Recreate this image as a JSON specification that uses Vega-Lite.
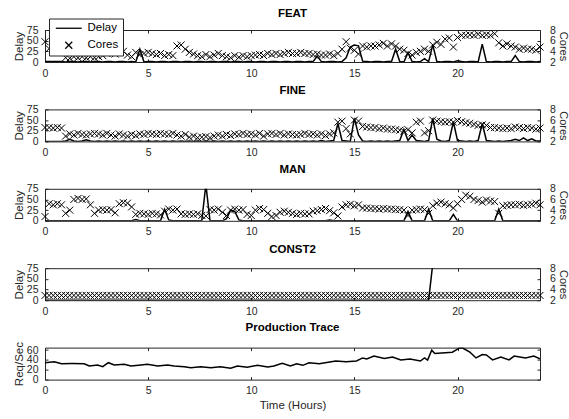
{
"$schema": "https://vega.github.io/schema/vega-lite/v6.json",
"background": "white",
"padding": {"left": 12, "top": 7, "right": 0, "bottom": 4},
"config": {
  "font": "Liberation Sans",
  "view": {"stroke": "#262626", "strokeWidth": 1},
  "title": {"font": "Liberation Sans", "fontSize": 11.5, "fontWeight": "bold", "color": "black", "offset": 8},
  "axis": {"labelFont": "Liberation Sans", "titleFont": "Liberation Sans", "labelFontSize": 10.5, "titleFontSize": 11.5, "titleFontWeight": "normal", "labelColor": "#262626", "titleColor": "#262626", "tickColor": "#262626", "domain": false, "grid": false, "tickSize": -3, "labelPadding": 9, "labelOverlap": false, "labelFlush": false, "titlePadding": 4},
  "axisLeft": {"labelPadding": 10, "titlePadding": 2},
  "axisRight": {"labelPadding": 12.5, "titlePadding": 2, "titleFontSize": 11},
  "axisBottom": {"labelPadding": 9, "titlePadding": 3},
  "legend": {"labelFont": "Liberation Sans"}
},
"datasets": {
"feat": [
{"t":0,"d":1,"c":5.8},{"t":0.2,"d":1,"c":4.5},{"t":0.4,"d":1,"c":4.5},{"t":0.6,"d":1,"c":4.2},{"t":0.8,"d":1,"c":4.0},
{"t":1.0,"d":0,"c":2.8},{"t":1.2,"d":1,"c":2.7},{"t":1.4,"d":1,"c":3.0},{"t":1.6,"d":0,"c":2.8},{"t":1.8,"d":1,"c":3.0},
{"t":2.0,"d":1,"c":2.8},{"t":2.2,"d":0,"c":3.0},{"t":2.4,"d":1,"c":2.8},{"t":2.6,"d":1,"c":3.0},{"t":2.8,"d":0,"c":3.2},
{"t":3.0,"d":1,"c":3.6},{"t":3.2,"d":1,"c":3.9},{"t":3.4,"d":0,"c":3.5},{"t":3.6,"d":1,"c":3.9},{"t":3.8,"d":1,"c":4.0},
{"t":4.0,"d":0,"c":3.3},{"t":4.2,"d":1,"c":3.0},{"t":4.4,"d":0,"c":3.8},{"t":4.6,"d":30,"c":3.4},{"t":4.8,"d":0,"c":3.6},
{"t":5.0,"d":1,"c":3.8},{"t":5.2,"d":1,"c":3.6},{"t":5.4,"d":0,"c":3.4},{"t":5.6,"d":1,"c":3.6},{"t":5.8,"d":1,"c":3.2},
{"t":6.0,"d":0,"c":3.4},{"t":6.2,"d":1,"c":3.2},{"t":6.4,"d":1,"c":5.0},{"t":6.6,"d":0,"c":5.2},{"t":6.8,"d":1,"c":4.4},
{"t":7.0,"d":1,"c":3.8},{"t":7.2,"d":0,"c":3.5},{"t":7.4,"d":1,"c":3.2},{"t":7.6,"d":1,"c":3.0},{"t":7.8,"d":0,"c":3.4},
{"t":8.0,"d":1,"c":3.0},{"t":8.2,"d":1,"c":3.3},{"t":8.4,"d":0,"c":3.6},{"t":8.6,"d":1,"c":3.2},{"t":8.8,"d":1,"c":3.0},
{"t":9.0,"d":0,"c":2.8},{"t":9.2,"d":1,"c":3.2},{"t":9.4,"d":1,"c":2.9},{"t":9.6,"d":0,"c":3.2},{"t":9.8,"d":1,"c":3.0},
{"t":10.0,"d":1,"c":3.2},{"t":10.2,"d":0,"c":3.3},{"t":10.4,"d":1,"c":3.4},{"t":10.6,"d":1,"c":3.2},{"t":10.8,"d":0,"c":3.6},
{"t":11.0,"d":1,"c":3.4},{"t":11.2,"d":1,"c":3.6},{"t":11.4,"d":0,"c":3.4},{"t":11.6,"d":1,"c":3.6},{"t":11.8,"d":1,"c":3.8},
{"t":12.0,"d":0,"c":3.6},{"t":12.2,"d":1,"c":3.6},{"t":12.4,"d":1,"c":3.8},{"t":12.6,"d":0,"c":3.6},{"t":12.8,"d":1,"c":3.6},
{"t":13.0,"d":1,"c":3.4},{"t":13.2,"d":14,"c":3.5},{"t":13.4,"d":1,"c":3.3},{"t":13.6,"d":0,"c":3.3},{"t":13.8,"d":1,"c":3.5},
{"t":14.0,"d":1,"c":3.2},{"t":14.2,"d":0,"c":3.6},{"t":14.4,"d":1,"c":4.4},{"t":14.6,"d":10,"c":5.8},{"t":14.8,"d":35,"c":4.6},
{"t":15.0,"d":40,"c":4.2},{"t":15.2,"d":38,"c":3.5},{"t":15.4,"d":2,"c":5.0},{"t":15.6,"d":1,"c":4.8},{"t":15.8,"d":0,"c":5.0},
{"t":16.0,"d":1,"c":5.0},{"t":16.2,"d":1,"c":5.2},{"t":16.4,"d":0,"c":5.5},{"t":16.6,"d":1,"c":5.0},{"t":16.8,"d":1,"c":5.4},
{"t":17.0,"d":30,"c":5.0},{"t":17.2,"d":1,"c":4.4},{"t":17.4,"d":0,"c":4.2},{"t":17.6,"d":22,"c":3.6},{"t":17.8,"d":1,"c":3.3},
{"t":18.0,"d":0,"c":3.8},{"t":18.2,"d":1,"c":4.0},{"t":18.4,"d":8,"c":4.4},{"t":18.6,"d":1,"c":4.0},{"t":18.8,"d":40,"c":5.2},
{"t":19.0,"d":1,"c":5.7},{"t":19.2,"d":0,"c":5.3},{"t":19.4,"d":1,"c":6.3},{"t":19.6,"d":1,"c":6.5},{"t":19.8,"d":0,"c":4.8},
{"t":20.0,"d":3,"c":6.6},{"t":20.2,"d":1,"c":7.0},{"t":20.4,"d":0,"c":7.0},{"t":20.6,"d":1,"c":7.1},{"t":20.8,"d":1,"c":7.0},
{"t":21.0,"d":0,"c":7.2},{"t":21.2,"d":42,"c":7.0},{"t":21.4,"d":1,"c":7.1},{"t":21.6,"d":0,"c":7.0},{"t":21.8,"d":1,"c":7.3},
{"t":22.0,"d":1,"c":5.6},{"t":22.2,"d":0,"c":5.0},{"t":22.4,"d":1,"c":5.4},{"t":22.6,"d":1,"c":5.0},{"t":22.8,"d":15,"c":4.8},
{"t":23.0,"d":1,"c":4.4},{"t":23.2,"d":0,"c":4.6},{"t":23.4,"d":1,"c":4.4},{"t":23.6,"d":1,"c":4.4},{"t":23.8,"d":0,"c":4.2},
{"t":24.0,"d":1,"c":4.8}
],
"fine": [
{"t":0,"d":0,"c":4.6},{"t":0.2,"d":0,"c":4.6},{"t":0.4,"d":0,"c":4.5},{"t":0.6,"d":0,"c":4.6},{"t":0.8,"d":0,"c":4.5},
{"t":1.0,"d":1,"c":3.0},{"t":1.2,"d":5,"c":3.4},{"t":1.4,"d":1,"c":3.2},{"t":1.6,"d":0,"c":3.5},{"t":1.8,"d":1,"c":3.3},
{"t":2.0,"d":4,"c":3.2},{"t":2.2,"d":1,"c":3.4},{"t":2.4,"d":0,"c":3.5},{"t":2.6,"d":1,"c":3.4},{"t":2.8,"d":0,"c":3.2},
{"t":3.0,"d":1,"c":3.5},{"t":3.2,"d":0,"c":3.2},{"t":3.4,"d":1,"c":3.0},{"t":3.6,"d":0,"c":3.4},{"t":3.8,"d":1,"c":3.2},
{"t":4.0,"d":0,"c":3.0},{"t":4.2,"d":1,"c":3.3},{"t":4.4,"d":0,"c":3.1},{"t":4.6,"d":1,"c":3.4},{"t":4.8,"d":0,"c":3.3},
{"t":5.0,"d":1,"c":3.5},{"t":5.2,"d":0,"c":3.4},{"t":5.4,"d":1,"c":3.3},{"t":5.6,"d":0,"c":3.5},{"t":5.8,"d":1,"c":3.4},
{"t":6.0,"d":0,"c":3.3},{"t":6.2,"d":1,"c":3.5},{"t":6.4,"d":0,"c":3.2},{"t":6.6,"d":1,"c":3.0},{"t":6.8,"d":0,"c":3.3},
{"t":7.0,"d":1,"c":2.8},{"t":7.2,"d":0,"c":3.0},{"t":7.4,"d":1,"c":2.7},{"t":7.6,"d":0,"c":2.8},{"t":7.8,"d":1,"c":2.9},
{"t":8.0,"d":0,"c":2.7},{"t":8.2,"d":1,"c":3.0},{"t":8.4,"d":0,"c":3.2},{"t":8.6,"d":1,"c":3.0},{"t":8.8,"d":0,"c":3.3},
{"t":9.0,"d":1,"c":3.1},{"t":9.2,"d":0,"c":3.4},{"t":9.4,"d":1,"c":3.3},{"t":9.6,"d":0,"c":3.5},{"t":9.8,"d":1,"c":3.3},
{"t":10.0,"d":0,"c":3.4},{"t":10.2,"d":1,"c":3.2},{"t":10.4,"d":0,"c":3.5},{"t":10.6,"d":1,"c":3.0},{"t":10.8,"d":0,"c":3.4},
{"t":11.0,"d":1,"c":3.5},{"t":11.2,"d":0,"c":3.3},{"t":11.4,"d":1,"c":3.5},{"t":11.6,"d":0,"c":3.2},{"t":11.8,"d":1,"c":3.4},
{"t":12.0,"d":0,"c":3.3},{"t":12.2,"d":1,"c":3.2},{"t":12.4,"d":0,"c":3.3},{"t":12.6,"d":1,"c":3.5},{"t":12.8,"d":0,"c":3.3},
{"t":13.0,"d":1,"c":3.4},{"t":13.2,"d":0,"c":3.2},{"t":13.4,"d":2,"c":3.4},{"t":13.6,"d":0,"c":3.1},{"t":13.8,"d":1,"c":3.4},
{"t":14.0,"d":2,"c":3.6},{"t":14.2,"d":42,"c":5.6},{"t":14.4,"d":2,"c":5.8},{"t":14.6,"d":1,"c":4.4},{"t":14.8,"d":0,"c":3.4},
{"t":15.0,"d":54,"c":6.0},{"t":15.2,"d":15,"c":5.8},{"t":15.4,"d":1,"c":4.8},{"t":15.6,"d":0,"c":4.7},{"t":15.8,"d":1,"c":4.6},
{"t":16.0,"d":0,"c":4.6},{"t":16.2,"d":1,"c":4.4},{"t":16.4,"d":0,"c":4.5},{"t":16.6,"d":1,"c":4.3},{"t":16.8,"d":0,"c":4.3},
{"t":17.0,"d":1,"c":4.2},{"t":17.2,"d":2,"c":4.1},{"t":17.4,"d":28,"c":3.9},{"t":17.6,"d":2,"c":4.2},{"t":17.8,"d":15,"c":3.6},
{"t":18.0,"d":2,"c":5.6},{"t":18.2,"d":1,"c":5.8},{"t":18.4,"d":0,"c":3.6},{"t":18.6,"d":2,"c":4.0},{"t":18.8,"d":54,"c":6.0},
{"t":19.0,"d":5,"c":5.8},{"t":19.2,"d":1,"c":5.7},{"t":19.4,"d":0,"c":5.6},{"t":19.6,"d":2,"c":5.7},{"t":19.8,"d":46,"c":5.6},
{"t":20.0,"d":2,"c":5.9},{"t":20.2,"d":1,"c":5.7},{"t":20.4,"d":0,"c":5.5},{"t":20.6,"d":1,"c":5.4},{"t":20.8,"d":0,"c":5.2},
{"t":21.0,"d":2,"c":5.0},{"t":21.2,"d":42,"c":5.1},{"t":21.4,"d":2,"c":5.0},{"t":21.6,"d":1,"c":4.6},{"t":21.8,"d":0,"c":4.6},
{"t":22.0,"d":1,"c":4.5},{"t":22.2,"d":0,"c":4.4},{"t":22.4,"d":1,"c":4.5},{"t":22.6,"d":2,"c":4.4},{"t":22.8,"d":5,"c":4.7},
{"t":23.0,"d":2,"c":4.6},{"t":23.2,"d":8,"c":4.4},{"t":23.4,"d":2,"c":4.6},{"t":23.6,"d":6,"c":4.5},{"t":23.8,"d":1,"c":4.3},
{"t":24.0,"d":1,"c":4.5}
],
"man": [
{"t":0,"d":0,"c":2.8},{"t":0.2,"d":0,"c":5.2},{"t":0.4,"d":0,"c":5.0},{"t":0.6,"d":0,"c":5.2},{"t":0.8,"d":0,"c":5.0},
{"t":1.0,"d":0,"c":3.4},{"t":1.2,"d":0,"c":4.0},{"t":1.4,"d":0,"c":6.0},{"t":1.6,"d":0,"c":6.2},{"t":1.8,"d":0,"c":6.0},
{"t":2.0,"d":0,"c":6.1},{"t":2.2,"d":0,"c":5.0},{"t":2.4,"d":0,"c":3.4},{"t":2.6,"d":0,"c":4.0},{"t":2.8,"d":0,"c":4.1},
{"t":3.0,"d":0,"c":4.0},{"t":3.2,"d":0,"c":4.1},{"t":3.4,"d":0,"c":3.5},{"t":3.6,"d":0,"c":5.2},{"t":3.8,"d":0,"c":5.4},
{"t":4.0,"d":0,"c":5.3},{"t":4.2,"d":0,"c":4.6},{"t":4.4,"d":3,"c":3.2},{"t":4.6,"d":0,"c":3.4},{"t":4.8,"d":0,"c":3.3},
{"t":5.0,"d":0,"c":3.2},{"t":5.2,"d":0,"c":3.4},{"t":5.4,"d":0,"c":3.3},{"t":5.6,"d":0,"c":3.1},{"t":5.8,"d":27,"c":3.8},
{"t":6.0,"d":2,"c":4.2},{"t":6.2,"d":0,"c":4.0},{"t":6.4,"d":0,"c":4.2},{"t":6.6,"d":0,"c":3.3},{"t":6.8,"d":0,"c":3.2},
{"t":7.0,"d":0,"c":3.3},{"t":7.2,"d":0,"c":3.2},{"t":7.4,"d":0,"c":3.3},{"t":7.6,"d":0,"c":3.0},{"t":7.8,"d":85,"c":2.9},
{"t":8.0,"d":0,"c":4.1},{"t":8.2,"d":0,"c":4.0},{"t":8.4,"d":0,"c":4.2},{"t":8.6,"d":0,"c":3.6},{"t":8.8,"d":5,"c":3.0},
{"t":9.0,"d":25,"c":4.0},{"t":9.2,"d":22,"c":4.2},{"t":9.4,"d":2,"c":4.0},{"t":9.6,"d":0,"c":4.1},{"t":9.8,"d":0,"c":3.2},
{"t":10.0,"d":0,"c":3.0},{"t":10.2,"d":0,"c":4.0},{"t":10.4,"d":0,"c":4.3},{"t":10.6,"d":0,"c":4.1},{"t":10.8,"d":0,"c":3.4},
{"t":11.0,"d":0,"c":2.8},{"t":11.2,"d":0,"c":3.0},{"t":11.4,"d":0,"c":3.6},{"t":11.6,"d":0,"c":3.8},{"t":11.8,"d":0,"c":3.6},
{"t":12.0,"d":0,"c":3.4},{"t":12.2,"d":0,"c":3.2},{"t":12.4,"d":0,"c":3.4},{"t":12.6,"d":0,"c":3.3},{"t":12.8,"d":0,"c":3.3},
{"t":13.0,"d":0,"c":3.8},{"t":13.2,"d":0,"c":3.9},{"t":13.4,"d":0,"c":4.1},{"t":13.6,"d":0,"c":4.3},{"t":13.8,"d":2,"c":3.9},
{"t":14.0,"d":0,"c":3.5},{"t":14.2,"d":0,"c":2.9},{"t":14.4,"d":0,"c":4.6},{"t":14.6,"d":0,"c":5.0},{"t":14.8,"d":0,"c":5.1},
{"t":15.0,"d":0,"c":4.8},{"t":15.2,"d":0,"c":5.0},{"t":15.4,"d":0,"c":4.4},{"t":15.6,"d":0,"c":4.4},{"t":15.8,"d":0,"c":4.3},
{"t":16.0,"d":0,"c":4.3},{"t":16.2,"d":0,"c":4.2},{"t":16.4,"d":0,"c":4.3},{"t":16.6,"d":0,"c":4.2},{"t":16.8,"d":0,"c":4.2},
{"t":17.0,"d":0,"c":4.1},{"t":17.2,"d":0,"c":4.1},{"t":17.4,"d":0,"c":4.0},{"t":17.6,"d":22,"c":3.0},{"t":17.8,"d":0,"c":4.0},
{"t":18.0,"d":0,"c":4.1},{"t":18.2,"d":0,"c":4.2},{"t":18.4,"d":0,"c":4.1},{"t":18.6,"d":27,"c":3.4},{"t":18.8,"d":0,"c":4.8},
{"t":19.0,"d":0,"c":5.3},{"t":19.2,"d":0,"c":5.5},{"t":19.4,"d":0,"c":5.2},{"t":19.6,"d":0,"c":5.0},{"t":19.8,"d":15,"c":4.4},
{"t":20.0,"d":0,"c":5.2},{"t":20.2,"d":0,"c":6.0},{"t":20.4,"d":0,"c":6.8},{"t":20.6,"d":0,"c":6.6},{"t":20.8,"d":0,"c":6.0},
{"t":21.0,"d":0,"c":5.8},{"t":21.2,"d":0,"c":5.5},{"t":21.4,"d":0,"c":5.9},{"t":21.6,"d":0,"c":5.7},{"t":21.8,"d":0,"c":5.6},
{"t":22.0,"d":27,"c":3.4},{"t":22.2,"d":0,"c":4.8},{"t":22.4,"d":0,"c":4.9},{"t":22.6,"d":0,"c":5.0},{"t":22.8,"d":0,"c":5.0},
{"t":23.0,"d":0,"c":5.1},{"t":23.2,"d":0,"c":4.9},{"t":23.4,"d":0,"c":5.0},{"t":23.6,"d":0,"c":5.1},{"t":23.8,"d":0,"c":5.3},
{"t":24.0,"d":0,"c":5.0}
],
"const2": [
{"t":0,"d":0,"c":2.9},{"t":0.2,"d":0,"c":2.9},{"t":0.4,"d":0,"c":2.9},{"t":0.6,"d":0,"c":2.9},{"t":0.8,"d":0,"c":2.9},
{"t":1.0,"d":0,"c":2.9},{"t":1.2,"d":0,"c":2.9},{"t":1.4,"d":0,"c":2.9},{"t":1.6,"d":0,"c":2.9},{"t":1.8,"d":0,"c":2.9},
{"t":2.0,"d":0,"c":2.9},{"t":2.2,"d":0,"c":2.9},{"t":2.4,"d":0,"c":2.9},{"t":2.6,"d":0,"c":2.9},{"t":2.8,"d":0,"c":2.9},
{"t":3.0,"d":0,"c":2.9},{"t":3.2,"d":0,"c":2.9},{"t":3.4,"d":0,"c":2.9},{"t":3.6,"d":0,"c":2.9},{"t":3.8,"d":0,"c":2.9},
{"t":4.0,"d":0,"c":2.9},{"t":4.2,"d":0,"c":2.9},{"t":4.4,"d":0,"c":2.9},{"t":4.6,"d":0,"c":2.9},{"t":4.8,"d":0,"c":2.9},
{"t":5.0,"d":0,"c":2.9},{"t":5.2,"d":0,"c":2.9},{"t":5.4,"d":0,"c":2.9},{"t":5.6,"d":0,"c":2.9},{"t":5.8,"d":0,"c":2.9},
{"t":6.0,"d":0,"c":2.9},{"t":6.2,"d":0,"c":2.9},{"t":6.4,"d":0,"c":2.9},{"t":6.6,"d":0,"c":2.9},{"t":6.8,"d":0,"c":2.9},
{"t":7.0,"d":0,"c":2.9},{"t":7.2,"d":0,"c":2.9},{"t":7.4,"d":0,"c":2.9},{"t":7.6,"d":0,"c":2.9},{"t":7.8,"d":0,"c":2.9},
{"t":8.0,"d":0,"c":2.9},{"t":8.2,"d":0,"c":2.9},{"t":8.4,"d":0,"c":2.9},{"t":8.6,"d":0,"c":2.9},{"t":8.8,"d":0,"c":2.9},
{"t":9.0,"d":0,"c":2.9},{"t":9.2,"d":0,"c":2.9},{"t":9.4,"d":0,"c":2.9},{"t":9.6,"d":0,"c":2.9},{"t":9.8,"d":0,"c":2.9},
{"t":10.0,"d":0,"c":2.9},{"t":10.2,"d":0,"c":2.9},{"t":10.4,"d":0,"c":2.9},{"t":10.6,"d":0,"c":2.9},{"t":10.8,"d":0,"c":2.9},
{"t":11.0,"d":0,"c":2.9},{"t":11.2,"d":0,"c":2.9},{"t":11.4,"d":0,"c":2.9},{"t":11.6,"d":0,"c":2.9},{"t":11.8,"d":0,"c":2.9},
{"t":12.0,"d":0,"c":2.9},{"t":12.2,"d":0,"c":2.9},{"t":12.4,"d":0,"c":2.9},{"t":12.6,"d":0,"c":2.9},{"t":12.8,"d":0,"c":2.9},
{"t":13.0,"d":0,"c":2.9},{"t":13.2,"d":0,"c":2.9},{"t":13.4,"d":0,"c":2.9},{"t":13.6,"d":0,"c":2.9},{"t":13.8,"d":0,"c":2.9},
{"t":14.0,"d":0,"c":2.9},{"t":14.2,"d":0,"c":2.9},{"t":14.4,"d":0,"c":2.9},{"t":14.6,"d":0,"c":2.9},{"t":14.8,"d":0,"c":2.9},
{"t":15.0,"d":0,"c":2.9},{"t":15.2,"d":0,"c":2.9},{"t":15.4,"d":0,"c":2.9},{"t":15.6,"d":0,"c":2.9},{"t":15.8,"d":0,"c":2.9},
{"t":16.0,"d":0,"c":2.9},{"t":16.2,"d":0,"c":2.9},{"t":16.4,"d":0,"c":2.9},{"t":16.6,"d":0,"c":2.9},{"t":16.8,"d":0,"c":2.9},
{"t":17.0,"d":0,"c":2.9},{"t":17.2,"d":0,"c":2.9},{"t":17.4,"d":0,"c":2.9},{"t":17.6,"d":0,"c":2.9},{"t":17.8,"d":0,"c":2.9},
{"t":18.0,"d":0,"c":2.9},{"t":18.2,"d":0,"c":2.9},{"t":18.4,"d":0,"c":2.9},{"t":18.6,"d":0,"c":2.9},{"t":18.8,"d":85,"c":2.9},
{"t":19.0,"d":150,"c":2.9},{"t":19.2,"d":180,"c":2.9},{"t":19.4,"d":210,"c":2.9},{"t":19.6,"d":240,"c":2.9},{"t":19.8,"d":270,"c":2.9},
{"t":20.0,"d":300,"c":2.9},{"t":20.2,"d":330,"c":2.9},{"t":20.4,"d":360,"c":2.9},{"t":20.6,"d":390,"c":2.9},{"t":20.8,"d":420,"c":2.9},
{"t":21.0,"d":450,"c":2.9},{"t":21.2,"d":480,"c":2.9},{"t":21.4,"d":510,"c":2.9},{"t":21.6,"d":540,"c":2.9},{"t":21.8,"d":570,"c":2.9},
{"t":22.0,"d":600,"c":2.9},{"t":22.2,"d":630,"c":2.9},{"t":22.4,"d":660,"c":2.9},{"t":22.6,"d":690,"c":2.9},{"t":22.8,"d":720,"c":2.9},
{"t":23.0,"d":750,"c":2.9},{"t":23.2,"d":780,"c":2.9},{"t":23.4,"d":810,"c":2.9},{"t":23.6,"d":840,"c":2.9},{"t":23.8,"d":870,"c":2.9},
{"t":24.0,"d":900,"c":2.9}
],
"prod": [
{"t":0,"r":34.3},{"t":0.45,"r":36.3},{"t":0.8,"r":32.3},{"t":1.3,"r":32.5},{"t":1.9,"r":32.3},{"t":2.15,"r":27.7},{"t":2.55,"r":29.7},{"t":2.8,"r":26.3},
{"t":3.07,"r":34.3},{"t":3.36,"r":29.7},{"t":3.84,"r":31},{"t":4.17,"r":27.7},{"t":4.65,"r":29.7},{"t":4.97,"r":31},{"t":5.46,"r":27.7},{"t":5.94,"r":29.7},
{"t":6.26,"r":27.7},{"t":6.75,"r":26.3},{"t":7.07,"r":24.3},{"t":7.55,"r":26.3},{"t":8.04,"r":24.3},{"t":8.5,"r":26.3},{"t":9.0,"r":23},{"t":9.33,"r":27.7},
{"t":9.8,"r":25},{"t":10.3,"r":29},{"t":10.8,"r":25.7},{"t":11.1,"r":27.7},{"t":11.5,"r":33},{"t":11.9,"r":27.7},{"t":12.2,"r":32},{"t":12.5,"r":29},
{"t":12.8,"r":34},{"t":13.3,"r":32},{"t":13.8,"r":35.7},{"t":14.1,"r":37.7},{"t":14.6,"r":36.3},{"t":15.1,"r":37.7},{"t":15.4,"r":44},{"t":15.6,"r":42},
{"t":15.95,"r":47.7},{"t":16.45,"r":43},{"t":16.85,"r":46},{"t":17.25,"r":39.7},{"t":17.7,"r":42},{"t":18.2,"r":37.7},{"t":18.4,"r":44},{"t":18.55,"r":39.7},
{"t":18.75,"r":59.7},{"t":18.9,"r":53},{"t":19.75,"r":55.7},{"t":20.1,"r":64.3},{"t":20.25,"r":64},{"t":20.6,"r":55.7},{"t":20.9,"r":44},{"t":21.2,"r":51},
{"t":21.4,"r":50},{"t":21.7,"r":40},{"t":22.1,"r":46},{"t":22.5,"r":40},{"t":22.75,"r":47.7},{"t":23.3,"r":44},{"t":23.7,"r":47.7},{"t":24,"r":42}
]
},
"vconcat": [
{
  "title": {"text": "FEAT", "offset": -1.5}, "width": 495, "height": 32, "data": {"name": "feat"},
  "layer": [
    {"mark": {"type": "line", "color": "black", "strokeWidth": 1.5, "clip": true},
     "encoding": {
       "x": {"field": "t", "type": "quantitative", "scale": {"domain": [0, 24], "nice": false}, "axis": {"values": [0, 5, 10, 15, 20], "title": null}},
       "y": {"field": "d", "type": "quantitative", "scale": {"domain": [0, 75], "nice": false}, "axis": {"values": [0, 25, 50, 75], "title": "Delay"}}}},
    {"mark": {"type": "point", "size": 49, "strokeWidth": 1, "color": "black", "filled": false, "opacity": 1},
     "encoding": {
       "x": {"field": "t", "type": "quantitative", "scale": {"domain": [0, 24], "nice": false}, "axis": {"orient": "top", "values": [0, 5, 10, 15, 20], "labels": false, "title": null}},
       "y": {"field": "c", "type": "quantitative", "scale": {"domain": [2, 8], "nice": false}, "axis": {"orient": "right", "values": [2, 4, 6, 8], "title": "Cores"}},
       "shape": {"datum": "Cores", "type": "nominal", "scale": {"domain": ["Delay", "Cores"], "range": ["M-3.7,0L3.7,0", "M-1,-1L1,1M-1,1L1,-1"]},
         "legend": {"orient": "none", "legendX": 4, "legendY": -11.5, "title": null, "fillColor": "white", "strokeColor": "#262626", "padding": 4, "symbolSize": 49, "symbolStrokeWidth": 1.3, "symbolStrokeColor": "black", "symbolFillColor": "transparent", "labelFontSize": 11.5, "labelColor": "black", "rowPadding": 4, "symbolOffset": 10, "labelOffset": 13}}}}
  ],
  "resolve": {"scale": {"x": "independent", "y": "independent", "shape": "independent"}}
},
{
  "title": "FINE", "width": 495, "height": 32, "data": {"name": "fine"},
  "layer": [
    {"mark": {"type": "line", "color": "black", "strokeWidth": 1.5, "clip": true},
     "encoding": {
       "x": {"field": "t", "type": "quantitative", "scale": {"domain": [0, 24], "nice": false}, "axis": {"values": [0, 5, 10, 15, 20], "title": null}},
       "y": {"field": "d", "type": "quantitative", "scale": {"domain": [0, 75], "nice": false}, "axis": {"values": [0, 25, 50, 75], "title": "Delay"}}}},
    {"mark": {"type": "point", "shape": "M-1,-1L1,1M-1,1L1,-1", "size": 49, "strokeWidth": 1, "color": "black", "filled": false, "opacity": 1},
     "encoding": {
       "x": {"field": "t", "type": "quantitative", "scale": {"domain": [0, 24], "nice": false}, "axis": {"orient": "top", "values": [0, 5, 10, 15, 20], "labels": false, "title": null}},
       "y": {"field": "c", "type": "quantitative", "scale": {"domain": [2, 8], "nice": false}, "axis": {"orient": "right", "values": [2, 4, 6, 8], "title": "Cores"}}}}
  ],
  "resolve": {"scale": {"x": "independent", "y": "independent"}}
},
{
  "title": "MAN", "width": 495, "height": 32, "data": {"name": "man"},
  "layer": [
    {"mark": {"type": "line", "color": "black", "strokeWidth": 1.5, "clip": true},
     "encoding": {
       "x": {"field": "t", "type": "quantitative", "scale": {"domain": [0, 24], "nice": false}, "axis": {"values": [0, 5, 10, 15, 20], "title": null}},
       "y": {"field": "d", "type": "quantitative", "scale": {"domain": [0, 75], "nice": false}, "axis": {"values": [0, 25, 50, 75], "title": "Delay"}}}},
    {"mark": {"type": "point", "shape": "M-1,-1L1,1M-1,1L1,-1", "size": 49, "strokeWidth": 1, "color": "black", "filled": false, "opacity": 1},
     "encoding": {
       "x": {"field": "t", "type": "quantitative", "scale": {"domain": [0, 24], "nice": false}, "axis": {"orient": "top", "values": [0, 5, 10, 15, 20], "labels": false, "title": null}},
       "y": {"field": "c", "type": "quantitative", "scale": {"domain": [2, 8], "nice": false}, "axis": {"orient": "right", "values": [2, 4, 6, 8], "title": "Cores"}}}}
  ],
  "resolve": {"scale": {"x": "independent", "y": "independent"}}
},
{
  "title": "CONST2", "width": 495, "height": 32, "data": {"name": "const2"},
  "layer": [
    {"mark": {"type": "line", "color": "black", "strokeWidth": 1.5, "clip": true},
     "encoding": {
       "x": {"field": "t", "type": "quantitative", "scale": {"domain": [0, 24], "nice": false}, "axis": {"values": [0, 5, 10, 15, 20], "title": null}},
       "y": {"field": "d", "type": "quantitative", "scale": {"domain": [0, 75], "nice": false}, "axis": {"values": [0, 25, 50, 75], "title": "Delay"}}}},
    {"mark": {"type": "point", "shape": "M-1,-1L1,1M-1,1L1,-1", "size": 49, "strokeWidth": 1, "color": "black", "filled": false, "opacity": 1},
     "encoding": {
       "x": {"field": "t", "type": "quantitative", "scale": {"domain": [0, 24], "nice": false}, "axis": {"orient": "top", "values": [0, 5, 10, 15, 20], "labels": false, "title": null}},
       "y": {"field": "c", "type": "quantitative", "scale": {"domain": [2, 8], "nice": false}, "axis": {"orient": "right", "values": [2, 4, 6, 8], "title": "Cores"}}}}
  ],
  "resolve": {"scale": {"x": "independent", "y": "independent"}}
},
{
  "title": "Production Trace", "width": 495, "height": 32, "data": {"name": "prod"},
  "layer": [
    {"mark": {"type": "line", "color": "black", "strokeWidth": 1.5, "clip": true},
     "encoding": {
       "x": {"field": "t", "type": "quantitative", "scale": {"domain": [0, 24], "nice": false}, "axis": {"values": [0, 5, 10, 15, 20], "title": "Time (Hours)"}},
       "y": {"field": "r", "type": "quantitative", "scale": {"domain": [0, 65], "nice": false}, "axis": {"values": [0, 20, 40, 60], "title": "Req/Sec"}}}},
    {"mark": {"type": "line", "color": "black", "strokeOpacity": 0, "clip": true},
     "encoding": {
       "x": {"field": "t", "type": "quantitative", "scale": {"domain": [0, 24], "nice": false}, "axis": {"orient": "top", "values": [0, 5, 10, 15, 20], "labels": false, "title": null}},
       "y": {"field": "r", "type": "quantitative", "scale": {"domain": [0, 65], "nice": false}, "axis": {"orient": "right", "values": [0, 20, 40, 60], "labels": false, "title": null}}}}
  ],
  "resolve": {"scale": {"x": "independent", "y": "independent"}}
}
],
"resolve": {"scale": {"shape": "independent"}},
"spacing": 47.4,
"bounds": "flush"
}
